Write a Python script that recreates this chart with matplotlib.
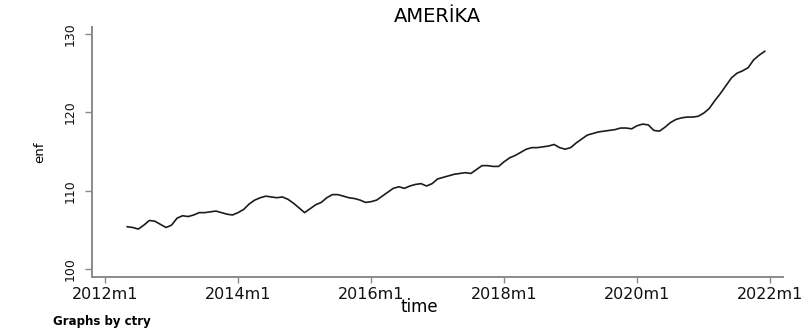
import numpy as np
import matplotlib
matplotlib.use("Agg")
import matplotlib.pyplot as plt

# monthly inflation index for the US panel, 2012m5 - 2021m12
country = "AMERİKA"
first_month = 4  # months after 2012m1
enf = [
    105.4, 105.3, 105.1, 105.6, 106.2, 106.1, 105.7, 105.3, 105.6,              # 2012
    106.5, 106.8, 106.7, 106.9, 107.2, 107.2, 107.3, 107.4, 107.2, 107.0, 106.9, 107.2,  # 2013 (to m12)
    107.6, 108.3, 108.8, 109.1, 109.3, 109.2, 109.1, 109.2, 108.9, 108.4, 107.8, 107.2,  # 2014
    107.7, 108.2, 108.5, 109.1, 109.5, 109.5, 109.3, 109.1, 109.0, 108.8, 108.5, 108.6,  # 2015
    108.8, 109.3, 109.8, 110.3, 110.5, 110.3, 110.6, 110.8, 110.9, 110.6, 110.9, 111.5,  # 2016
    111.7, 111.9, 112.1, 112.2, 112.3, 112.2, 112.7, 113.2, 113.2, 113.1, 113.1, 113.7,  # 2017
    114.2, 114.5, 114.9, 115.3, 115.5, 115.5, 115.6, 115.7, 115.9, 115.5, 115.3, 115.5,  # 2018
    116.1, 116.6, 117.1, 117.3, 117.5, 117.6, 117.7, 117.8, 118.0, 118.0, 117.9, 118.3,  # 2019
    118.5, 118.4, 117.7, 117.6, 118.1, 118.7, 119.1, 119.3, 119.4, 119.4, 119.5, 119.9,  # 2020
    120.5, 121.5, 122.4, 123.4, 124.4, 125.0, 125.3, 125.7, 126.7, 127.3, 127.8,        # 2021
]
xtick_pos = [0, 24, 48, 72, 96, 120]
xtick_labels = ["2012m1", "2014m1", "2016m1", "2018m1", "2020m1", "2022m1"]
ytick_pos = [100, 110, 120, 130]

t = np.arange(first_month, first_month + len(enf))

W, H = 809, 333
fig = plt.figure(figsize=(W / 100, H / 100), dpi=100)
ax = fig.add_axes([92 / W, 1 - 277 / H, (783 - 92) / W, (277 - 27) / H])

ax.plot(t, enf, color="#1c1c1c", lw=1.2)

axis_gray = "#8a8a8a"
ax.set_xlim(-2.35, 122.3)
ax.set_ylim(98.98, 130.9)
for side in ["top", "right"]:
    ax.spines[side].set_visible(False)
for side in ["left", "bottom"]:
    ax.spines[side].set_color(axis_gray)
    ax.spines[side].set_linewidth(1.4)

ax.set_xticks(xtick_pos)
ax.set_xticklabels(xtick_labels, fontsize=11.5, color="#111111")
ax.set_yticks(ytick_pos)
ax.set_yticklabels([str(v) for v in ytick_pos], fontsize=9, rotation=90,
                   va="center", color="#111111")
ax.tick_params(axis="x", length=4, width=1, color=axis_gray, pad=3)
ax.tick_params(axis="y", length=5, width=1, color=axis_gray, pad=6)

# axis titles and panel header placed in figure pixels
fig.text(40 / W, 1 - 152 / H, "enf", fontsize=9.5, rotation=90,
         ha="center", va="center")
fig.text(437.5 / W, 1 - 17 / H, country, fontsize=14, ha="center", va="center")
fig.text(419 / W, 1 - 307 / H, "time", fontsize=12, ha="center", va="center")
fig.text(53 / W, 1 - 321 / H, "Graphs by ctry", fontsize=8.5,
         fontweight="bold", ha="left", va="center")

fig.savefig("out.png", dpi=100)
